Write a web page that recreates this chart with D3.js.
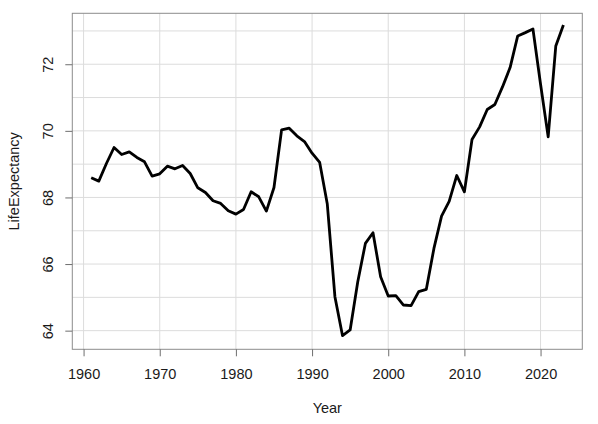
<!DOCTYPE html>
<html><head><meta charset="utf-8">
<script src="https://cdn.jsdelivr.net/npm/d3@7"></script>
<style>body{margin:0;background:#fff}svg{display:block}text{font-family:"Liberation Sans",Arial,sans-serif;fill:#1a1a1a}</style>
</head><body>
<script>
const years = d3.range(1961, 2024);
const lifeExpectancy = [
  68.59, 68.49, 69.02, 69.50, 69.29, 69.37, 69.20, 69.07, 68.64, 68.71,
  68.94, 68.86, 68.96, 68.72, 68.29, 68.15, 67.90, 67.82, 67.60, 67.50,
  67.64, 68.17, 68.02, 67.59, 68.30, 70.03, 70.08, 69.85, 69.68, 69.33,
  69.05, 67.80, 65.02, 63.85, 64.02, 65.47, 66.62, 66.94, 65.62, 65.04,
  65.05, 64.77, 64.75, 65.17, 65.24, 66.47, 67.44, 67.88, 68.66, 68.17,
  69.74, 70.12, 70.64, 70.79, 71.32, 71.90, 72.85, 72.95, 73.06, 71.40,
  69.82, 72.55, 73.18
];
const xTicks = [1960, 1970, 1980, 1990, 2000, 2010, 2020];
const yTicks = [64, 66, 68, 70, 72];
const yGrid = [64, 65, 66, 67, 68, 69, 70, 71, 72, 73];
const xLabel = "Year", yLabel = "LifeExpectancy";

const W = 598, H = 424;
const box = {l: 72.3, r: 582.3, t: 13.3, b: 349.3};
const svg = d3.select("body").append("svg").attr("width", W).attr("height", H);

const x = d3.scaleLinear().domain([1958.52, 2025.48]).range([box.l, box.r]);
const y = d3.scaleLinear().domain([63.44, 73.53]).range([box.b, box.t]);

// grid
const g = svg.append("g");
g.selectAll("line.h").data(yGrid).join("line")
  .attr("x1", box.l).attr("x2", box.r).attr("y1", d => y(d)).attr("y2", d => y(d))
  .attr("stroke", "#dcdcdc").attr("stroke-width", 1);
g.selectAll("line.v").data(xTicks).join("line")
  .attr("y1", box.t).attr("y2", box.b).attr("x1", d => x(d)).attr("x2", d => x(d))
  .attr("stroke", "#dcdcdc").attr("stroke-width", 1);

// line
const line = d3.line().x((d, i) => x(years[i])).y(d => y(d));
svg.append("path").datum(lifeExpectancy).attr("d", line)
  .attr("fill", "none").attr("stroke", "#000").attr("stroke-width", 2.8)
  .attr("stroke-linejoin", "round");

// box
svg.append("rect").attr("x", box.l).attr("y", box.t)
  .attr("width", box.r - box.l).attr("height", box.b - box.t)
  .attr("fill", "none").attr("stroke", "#8c8c8c").attr("stroke-width", 1);

// axes
const xAxis = d3.axisBottom(x).tickValues(xTicks).tickSize(7).tickPadding(12).tickFormat(d3.format("d"));
const xa = svg.append("g").attr("transform", `translate(0,${box.b})`).call(xAxis);
xa.select(".domain").remove();
xa.selectAll(".tick line").attr("stroke", "#6e6e6e");
xa.selectAll(".tick text").attr("font-size", 14.5).attr("fill", "#1a1a1a")
  .attr("font-family", "Liberation Sans, Arial, sans-serif").attr("dy", "0.71em");

const yAxis = d3.axisLeft(y).tickValues(yTicks).tickSize(7).tickFormat(d3.format("d"));
const ya = svg.append("g").attr("transform", `translate(${box.l},0)`).call(yAxis);
ya.select(".domain").remove();
ya.selectAll(".tick line").attr("stroke", "#6e6e6e");
ya.selectAll(".tick text").attr("font-size", 14.5).attr("fill", "#1a1a1a")
  .attr("font-family", "Liberation Sans, Arial, sans-serif")
  .attr("text-anchor", "middle").attr("x", 0).attr("dy", 0)
  .attr("transform", "translate(-19,0) rotate(-90)");

svg.append("text").attr("x", (box.l + box.r) / 2).attr("y", 413)
  .attr("text-anchor", "middle").attr("font-size", 14.5).text(xLabel);
svg.append("text").attr("transform", `translate(19,${(box.t + box.b) / 2}) rotate(-90)`)
  .attr("text-anchor", "middle").attr("font-size", 14.5).text(yLabel);
</script>
</body></html>
